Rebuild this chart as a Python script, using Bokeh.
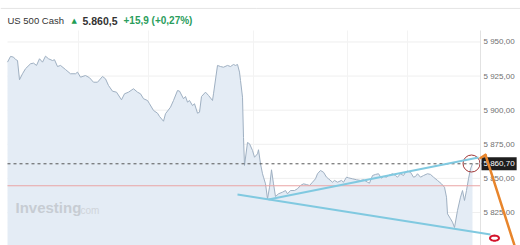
from bokeh.plotting import figure
from bokeh.models import (Range1d, LinearAxis, FixedTicker, Label, Arrow, PolyAnnotation)
from bokeh.embed import file_html
from bokeh.resources import INLINE
import numpy as np

# ---------------- data ----------------
t = [0, 3, 6, 8, 10, 12, 15, 18, 23, 26, 29, 32, 35, 38, 41, 45, 47, 50, 53, 58,
     63, 68, 70, 73, 78, 82, 86, 90, 95, 98, 101, 105, 109, 114, 117, 121, 126, 130,
     133, 136, 140, 142, 146, 150, 152, 156, 158, 163, 166, 170, 172, 176, 178, 180,
     182, 185, 187, 190, 192, 194, 198, 201, 205, 206, 210, 213, 216, 220, 223, 226,
     228, 230, 232, 233, 235, 236, 237, 240, 242, 245, 247, 250, 251, 253, 255, 256,
     258, 260, 262, 264, 266, 268, 271, 275, 278, 280, 283, 287, 290, 293, 296, 299,
     302, 305, 308, 310, 313, 316, 319, 321, 325, 327, 330, 334, 336, 339, 341, 345,
     349, 353, 356, 360, 362, 365, 368, 371, 374, 376, 379, 381, 385, 388, 390, 393,
     396, 398, 400, 403, 406, 408, 410, 413, 416, 420, 423, 426, 430, 434, 437, 439,
     440, 443, 445, 447, 450, 453, 455, 457, 459, 461, 463, 465]
price = [5935.2, 5939.4, 5938.9, 5937.2, 5936.4, 5922.3, 5926.7, 5930.4, 5934.0, 5934.5,
         5932.8, 5937.7, 5935.2, 5939.6, 5937.7, 5936.4, 5937.0, 5932.0, 5932.8, 5929.8,
         5926.7, 5926.7, 5927.9, 5924.2, 5925.4, 5923.8, 5920.5, 5920.5, 5924.7, 5923.0,
         5918.1, 5913.9, 5913.2, 5907.6, 5912.0, 5913.2, 5915.7, 5913.2, 5912.0, 5908.4,
         5907.1, 5904.7, 5899.8, 5897.8, 5895.4, 5891.9, 5897.4, 5902.2, 5907.1, 5914.4,
         5914.0, 5908.4, 5910.0, 5905.9, 5907.1, 5903.4, 5904.7, 5897.8, 5898.5, 5910.0,
         5913.2, 5910.8, 5907.1, 5912.0, 5932.8, 5932.0, 5931.5, 5932.8, 5932.0, 5933.5,
         5932.8, 5933.5, 5927.9, 5921.8, 5909.5, 5880.0, 5859.5, 5876.3, 5875.4, 5870.5,
         5865.5, 5868.0, 5871.0, 5860.7, 5853.4, 5850.9, 5846.0, 5835.0, 5843.5, 5856.3,
         5846.0, 5836.7, 5838.7, 5839.9, 5841.1, 5838.7, 5841.1, 5841.1, 5842.4, 5844.8,
         5846.0, 5845.5, 5844.8, 5847.2, 5849.7, 5853.4, 5855.8, 5854.5, 5850.9, 5849.7,
         5847.2, 5848.5, 5847.2, 5848.5, 5847.2, 5850.9, 5850.4, 5849.7, 5849.0, 5848.5,
         5849.0, 5847.2, 5846.5, 5852.1, 5852.9, 5853.4, 5850.1, 5851.4, 5850.9, 5852.1,
         5853.4, 5852.1, 5850.9, 5853.4, 5852.1, 5854.5, 5855.3, 5854.5, 5850.9, 5851.4,
         5853.4, 5850.9, 5852.1, 5853.4, 5852.9, 5850.9, 5848.5, 5846.0, 5843.5, 5836.2,
         5824.0, 5820.4, 5817.9, 5814.0, 5826.5, 5836.2, 5841.1, 5833.8, 5841.1, 5849.7,
         5857.0, 5860.7]

y_ticks = [5825, 5850, 5875, 5900, 5925, 5950]
y_tick_labels = ["5 825,00", "5 850,00", "5 875,00", "5 900,00", "5 925,00", "5 950,00"]
x_grid = [71, 141, 246, 340, 400]

last_price = 5860.7
last_price_label = "5 860,70"
prev_close = 5844.6

title_name = "US 500 Cash"
title_price = "5.860,5"
title_change = "+15,9 (+0,27%)"

# drawn annotations (data coordinates: t, price)
lower_trend = [(230, 5838.2), (483, 5808.9)]
upper_trend = [(261, 5834.5), (471, 5865.3)]
orange_path = [(473, 5864.9), (478, 5867.2), (508, 5798.6)]
marker_circle = (464, 5860.9)
red_ellipse = (487, 5806.2, 4.5, 1.9)

# plot window (chart area) and full canvas ranges
chart_x_end = 473          # right edge of the chart area (price axis line)
chart_y_top = 5958.4       # top of the chart area
toolbar_rule_y = 5974.6    # thin rule under the toolbar row
x_lo, x_hi = -7, 513
y_lo, y_hi = 5800.8, 5980.4

# ---------------- figure ----------------
p = figure(width=520, height=245, output_backend="svg", toolbar_location=None,
           x_range=Range1d(x_lo, x_hi), y_range=Range1d(y_lo, y_hi),
           x_axis_location=None, y_axis_location=None,
           min_border_left=0, min_border_right=0, min_border_top=0,
           min_border_bottom=0)
p.outline_line_color = None
p.background_fill_color = "white"
p.border_fill_color = "white"
p.xgrid.visible = False
p.ygrid.visible = False

# grid lines (limited to the chart area)
p.segment(x0=[0] * len(y_ticks), x1=[chart_x_end] * len(y_ticks), y0=y_ticks, y1=y_ticks,
          line_color="#efefef", line_width=1)
p.segment(x0=x_grid, x1=x_grid, y0=[y_lo] * len(x_grid), y1=[chart_y_top] * len(x_grid),
          line_color="#f3f3f3", line_width=1)

# toolbar rule
p.segment(x0=[x_lo], x1=[x_hi], y0=[toolbar_rule_y], y1=[toolbar_rule_y],
          line_color="#e4e4e4", line_width=1)

# price area
p.varea(x=t, y1=[y_lo - 10] * len(t), y2=price, fill_color="#e4ecf5")
p.line(t, price, line_color="#9fb0c2", line_width=1)

# previous close and last price lines
p.segment(x0=[0], x1=[chart_x_end], y0=[prev_close], y1=[prev_close],
          line_color="#eaa5a5", line_width=1)
p.segment(x0=[0], x1=[chart_x_end + 2], y0=[last_price], y1=[last_price],
          line_color="#555555", line_width=1, line_dash="3 3")

# price axis on the right, drawn at the chart area's edge
yaxis = LinearAxis(ticker=FixedTicker(ticks=y_ticks),
                   major_label_overrides={k: v for k, v in zip(y_ticks, y_tick_labels)},
                   major_tick_line_color=None, minor_tick_line_color=None,
                   major_tick_in=0, major_tick_out=0,
                   minor_tick_in=0, minor_tick_out=0,
                   axis_line_color="#e2e2e2", major_label_standoff=3,
                   major_label_text_font_size="8px",
                   major_label_text_font="Liberation Sans",
                   major_label_text_color="#707070",
                   fixed_location=chart_x_end, bounds=(y_lo, chart_y_top))
p.add_layout(yaxis, "right")

# drawings
p.scatter([marker_circle[0]], [marker_circle[1]], size=17, marker="circle",
          fill_alpha=0, line_color="#a03535", line_width=1)

for seg in (lower_trend, upper_trend):
    p.add_layout(Arrow(end=None, x_start=seg[0][0], y_start=seg[0][1],
                       x_end=seg[1][0], y_end=seg[1][1],
                       line_color="#80c9e0", line_width=2))

p.add_layout(Label(x=chart_x_end + 1, y=last_price, text=last_price_label,
                   text_font="Liberation Sans", text_font_size="8px",
                   text_color="white", text_baseline="middle", text_align="left",
                   background_fill_color="#1e1e1e", padding=2))

for a, b in zip(orange_path[:-1], orange_path[1:]):
    p.add_layout(Arrow(end=None, x_start=a[0], y_start=a[1], x_end=b[0], y_end=b[1],
                       line_color="#e8852c", line_width=2.5, line_cap="round"))

ang = np.linspace(0, 2 * np.pi, 25)
cx, cy, rx, ry = red_ellipse
p.add_layout(PolyAnnotation(xs=list(cx + rx * np.cos(ang)), ys=list(cy + ry * np.sin(ang)),
                            fill_alpha=0, line_alpha=1, line_color="#d3142c",
                            line_width=2))

# header texts (screen units, from the bottom-left)
hdr_y = 225
p.add_layout(Label(x=7, y=hdr_y, x_units="screen", y_units="screen", text=title_name,
                   text_font="Liberation Sans", text_font_size="9.5px",
                   text_color="#333333", text_baseline="middle"))
p.add_layout(Label(x=71, y=hdr_y, x_units="screen", y_units="screen", text="▲",
                   text_font="DejaVu Sans", text_font_size="7px",
                   text_color="#1f9d55", text_baseline="middle"))
p.add_layout(Label(x=82, y=hdr_y, x_units="screen", y_units="screen", text=title_price,
                   text_font="Liberation Sans", text_font_size="10.5px",
                   text_font_style="bold", text_color="#333333", text_baseline="middle"))
p.add_layout(Label(x=123, y=hdr_y, x_units="screen", y_units="screen", text=title_change,
                   text_font="Liberation Sans", text_font_size="10px",
                   text_font_style="bold", text_color="#2a9d5c", text_baseline="middle"))

# watermark
p.add_layout(Label(x=15, y=30, x_units="screen", y_units="screen", text="Investing",
                   text_font="Liberation Sans", text_font_size="15px",
                   text_font_style="bold", text_color="#c7ccd3"))
p.add_layout(Label(x=80, y=30, x_units="screen", y_units="screen", text="com",
                   text_font="Liberation Sans", text_font_size="10px",
                   text_color="#d0d4da"))

open("out.html", "w").write(file_html(p, INLINE))
